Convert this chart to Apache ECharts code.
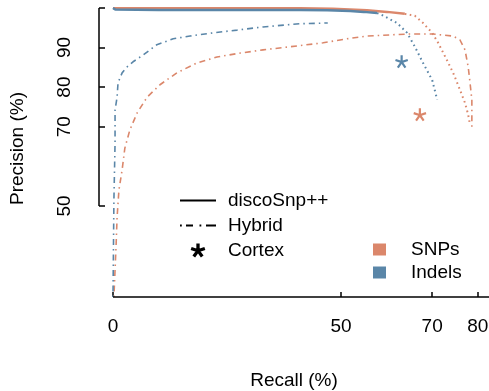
<!DOCTYPE html>
<html>
<head>
<meta charset="utf-8">
<script src="https://cdn.jsdelivr.net/npm/echarts@6/dist/echarts.min.js"></script>
<style>
  html, body { margin: 0; padding: 0; background: #fff; }
  #chart { width: 489px; height: 391px; }
</style>
</head>
<body>
<div id="chart"></div>
<script>
// axis ticks
const xTicks = [0, 50, 70, 80]
const yTicks = [50, 70, 80, 90, 100]
const yLabels = [50, 70, 80, 90]

// discoSnp++ (solid part)
const snpSolidRecall = [0, 10, 20, 30, 41, 48.2, 55.7, 60.1, 64.0]
const snpSolidPrecision = [99.9, 99.9, 99.9, 99.9, 99.9, 99.8, 99.4, 99.0, 98.5]
const indelSolidRecall = [0, 0.5, 10, 20, 30, 41, 47, 52, 55, 57.9]
const indelSolidPrecision = [100, 99.6, 99.5, 99.5, 99.5, 99.5, 99.4, 99.2, 99.0, 98.7]

// discoSnp++ (dotted tail)
const snpDottedRecall = [64.0, 66.2, 68.0, 70.0, 71.3, 73.2, 74.6, 76.1, 77.2, 77.9, 78.3]
const snpDottedPrecision = [98.5, 98.0, 96.2, 93.7, 91.2, 86.9, 83.6, 79.3, 76.0, 73.0, 70.5]
const indelDottedRecall = [57.9, 59.0, 62.3, 64.5, 66.2, 68.0, 70.0, 71.1]
const indelDottedPrecision = [98.7, 98.2, 96.2, 93.7, 90.2, 86.1, 81.8, 76.8]

// Hybrid
const snpHybridRecall = [0.2, 0.45, 0.7, 0.9, 1.3, 2.0, 2.6, 3.7, 5.3, 7.5, 10.3, 14.0, 18.4, 22.8, 27.9, 32.9,
  40.4, 46.1, 51.3, 55.7, 64.5, 70.2, 74.6, 76.1, 77.2, 77.9, 78.3, 78.7, 78.7, 78.7]
const snpHybridPrecision = [27.0, 33.8, 40.7, 47.2, 54.0, 59.1, 64.6, 69.2, 73.5, 77.5, 80.6, 83.6, 86.1, 87.6, 88.6, 89.4,
  90.4, 91.2, 92.2, 92.9, 93.4, 93.4, 92.9, 91.9, 89.4, 85.1, 81.1, 76.8, 72.5, 69.2]
const indelHybridRecall = [0, 0.2, 0.45, 0.45, 0.9, 1.1, 2.0, 3.1, 4.4, 6.6, 9.6, 13.2, 16.9, 21.9, 27.2, 32.9, 41.0, 47.1]
const indelHybridPrecision = [27.0, 51.5, 65.9, 74.2, 77.5, 81.1, 83.6, 85.1, 86.4, 88.1, 90.7, 92.2, 92.9, 93.7, 94.4, 95.2, 96.0, 96.2]

// Cortex
const cortexSnp = [67.3, 73.0]
const cortexIndel = [63.3, 86.4]

const ORANGE = '#db876b'
const BLUE = '#5a86a8'
const X_MIN = -3.07, X_MAX = 82.46
const Y_MIN = 27.0, Y_MAX = 102.0
const DOTDASH = [1.5, 4, 6, 4]
const DOTTED = [1.6, 3.4]
const FONT = 'Liberation Sans, Arial, Helvetica, sans-serif'

// 5-armed asterisk symbol
function asterisk(w) {
  let p = ''
  for (let k = 0; k < 5; k++) {
    const a = (-90 + k * 72) * Math.PI / 180
    const dx = Math.cos(a), dy = Math.sin(a), nx = -dy, ny = dx
    const L = 10, c = 10
    const pts = [
      [c - w * dx + w * nx, c - w * dy + w * ny],
      [c + L * dx + w * nx, c + L * dy + w * ny],
      [c + L * dx - w * nx, c + L * dy - w * ny],
      [c - w * dx - w * nx, c - w * dy - w * ny]
    ]
    p += 'M' + pts.map(q => q[0].toFixed(2) + ' ' + q[1].toFixed(2)).join(' L') + ' Z '
  }
  return 'path://' + p
}
const STAR = asterisk(1.7)
const STAR_BOLD = asterisk(2.3)
// legend line samples
const SOLID_ICON = 'path://M0 0 L36 0 L36 2.2 L0 2.2 Z'
const DOTDASH_ICON = 'path://M0 0 L1.8 0 L1.8 2 L0 2 Z M6 0 L13 0 L13 2 L6 2 Z M19.5 0 L21.3 0 L21.3 2 L19.5 2 Z M26 0 L36 0 L36 2 L26 2 Z'

function zip(a, b) {
  return a.map((v, i) => [v, b[i]])
}

function lineSeries(name, xs, ys, color, width, type) {
  return {
    name: name,
    type: 'line',
    data: zip(xs, ys),
    symbol: 'none',
    lineStyle: { color: color, width: width, type: type, cap: 'butt' },
    z: 3
  }
}

function legendOnly(name, symbol, color) {
  return { name: name, type: 'scatter', data: [], symbol: symbol, itemStyle: { color: color, opacity: 1 } }
}

const chart = echarts.init(document.getElementById('chart'), null, { renderer: 'canvas' })

const option = {
  animation: false,
  textStyle: { fontFamily: FONT },
  grid: { left: 99, right: 0, top: 0, bottom: 94, containLabel: false, outerBoundsMode: 'none' },
  xAxis: {
    type: 'value',
    min: X_MIN,
    max: X_MAX,
    axisLine: { show: false, onZero: false },
    splitLine: { show: false },
    axisTick: { show: true, inside: true, length: 5, customValues: xTicks, lineStyle: { color: '#000', width: 1.5 } },
    axisLabel: { customValues: xTicks, fontSize: 19, color: '#000', margin: 20, fontFamily: FONT },
    name: 'Recall (%)',
    nameLocation: 'middle',
    nameGap: 74,
    nameTextStyle: { fontSize: 19, color: '#000', fontFamily: FONT }
  },
  yAxis: {
    type: 'value',
    min: Y_MIN,
    max: Y_MAX,
    axisLine: { show: false, onZero: false },
    splitLine: { show: false },
    axisTick: { show: true, inside: true, length: 6, customValues: yTicks, lineStyle: { color: '#000', width: 1.5 } },
    axisLabel: { customValues: yLabels, rotate: 90, fontSize: 19, color: '#000', margin: 25, fontFamily: FONT },
    name: 'Precision (%)',
    nameLocation: 'middle',
    nameRotate: 90,
    nameGap: 72,
    nameTextStyle: { fontSize: 19, color: '#000', fontFamily: FONT }
  },
  legend: [
    {
      left: 175,
      top: 186,
      orient: 'vertical',
      itemWidth: 36,
      itemHeight: 14,
      itemGap: 6,
      selectedMode: false,
      data: [
        { name: 'discoSnp++', icon: SOLID_ICON },
        { name: 'Hybrid', icon: DOTDASH_ICON },
        { name: 'Cortex', icon: STAR_BOLD }
      ],
      textStyle: { fontSize: 19, color: '#000', padding: [0, 0, 0, 7], fontFamily: FONT }
    },
    {
      left: 368,
      top: 235,
      orient: 'vertical',
      itemWidth: 13,
      itemHeight: 12,
      itemGap: 4,
      selectedMode: false,
      data: [{ name: 'SNPs', icon: 'rect' }, { name: 'Indels', icon: 'rect' }],
      textStyle: { fontSize: 19, color: '#000', padding: [0, 0, 0, 20], fontFamily: FONT }
    }
  ],
  series: [
    lineSeries('SNPs discoSnp++', snpSolidRecall, snpSolidPrecision, ORANGE, 2.5, 'solid'),
    lineSeries('Indels discoSnp++', indelSolidRecall, indelSolidPrecision, BLUE, 2.5, 'solid'),
    lineSeries('SNPs tail', snpDottedRecall, snpDottedPrecision, ORANGE, 2, DOTTED),
    lineSeries('Indels tail', indelDottedRecall, indelDottedPrecision, BLUE, 2, DOTTED),
    lineSeries('SNPs Hybrid', snpHybridRecall, snpHybridPrecision, ORANGE, 1.6, DOTDASH),
    lineSeries('Indels Hybrid', indelHybridRecall, indelHybridPrecision, BLUE, 1.6, DOTDASH),
    {
      name: 'SNPs Cortex', type: 'scatter', data: [cortexSnp], symbol: STAR, symbolSize: 13,
      itemStyle: { color: ORANGE, opacity: 1 }, z: 4
    },
    {
      name: 'Indels Cortex', type: 'scatter', data: [cortexIndel], symbol: STAR, symbolSize: 13,
      itemStyle: { color: BLUE, opacity: 1 }, z: 4
    },
    // legend-only series
    legendOnly('discoSnp++', SOLID_ICON, '#000'),
    legendOnly('Hybrid', DOTDASH_ICON, '#000'),
    legendOnly('Cortex', STAR_BOLD, '#000'),
    legendOnly('SNPs', 'rect', ORANGE),
    legendOnly('Indels', 'rect', BLUE),
    // axis lines, R style (span first to last tick)
    {
      name: 'axes', type: 'line', data: [], clip: false, silent: true,
      markLine: {
        silent: true,
        symbol: ['none', 'none'],
        label: { show: false },
        lineStyle: { color: '#000', width: 1.5, type: 'solid' },
        data: [
          [{ coord: [X_MIN, 50] }, { coord: [X_MIN, 100] }],
          [{ coord: [0, Y_MIN] }, { coord: [X_MAX, Y_MIN] }]
        ]
      }
    }
  ]
}

chart.setOption(option)
</script>
</body>
</html>
